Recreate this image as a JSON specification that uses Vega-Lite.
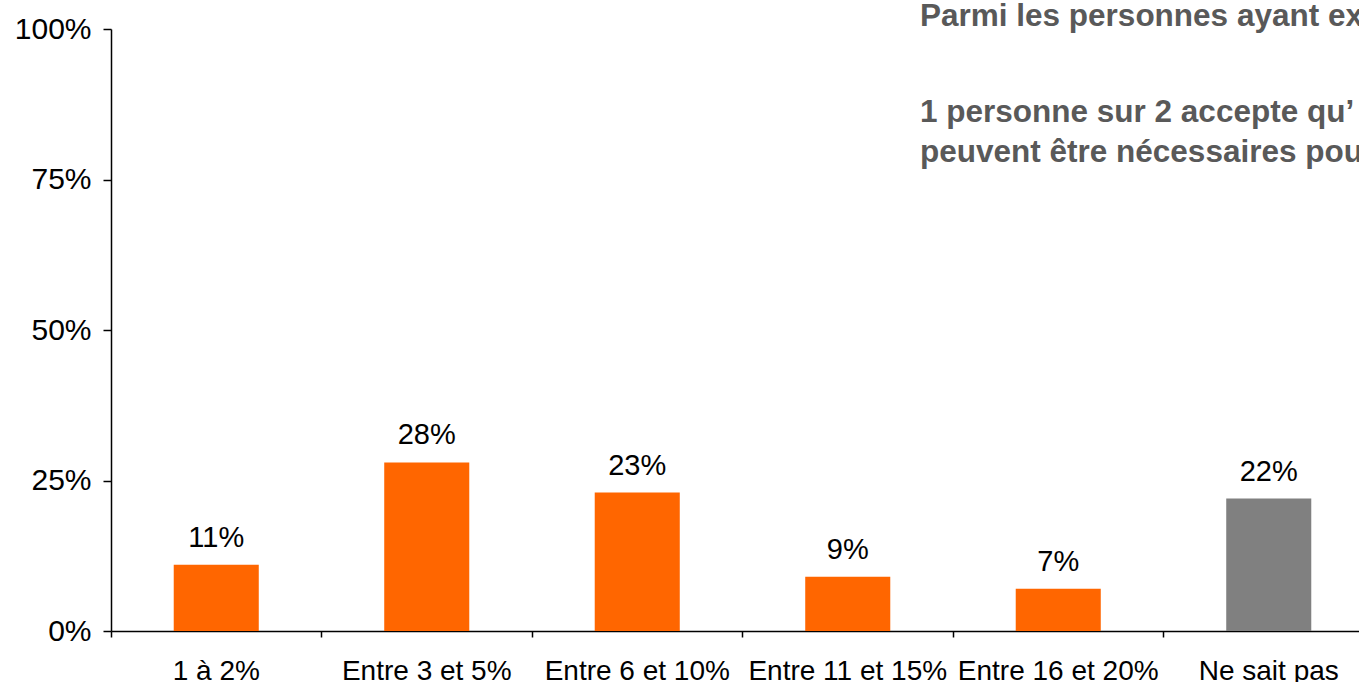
{
  "$schema": "https://vega.github.io/schema/vega-lite/v6.json",
  "width": 1248,
  "height": 602,
  "autosize": {"type": "none"},
  "padding": {"left": 111, "top": 29, "right": 0, "bottom": 51},
  "background": "white",
  "config": {"view": {"stroke": null}, "font": "Liberation Sans"},
  "title": {
    "text": "Parmi les personnes ayant ex",
    "subtitle": ["1 personne sur 2 accepte qu’", "peuvent être nécessaires pou"],
    "anchor": "start",
    "frame": "group",
    "dx": 809,
    "offset": -154,
    "font": "Liberation Sans",
    "fontSize": 31.5,
    "fontWeight": "bold",
    "color": "#595959",
    "subtitleFont": "Liberation Sans",
    "subtitleFontSize": 31.5,
    "subtitleFontWeight": "bold",
    "subtitleColor": "#595959",
    "subtitleLineHeight": 40,
    "subtitlePadding": 64
  },
  "data": {
    "values": [
      {"tranche": "1 à 2%", "part": 0.11, "groupe": "avis"},
      {"tranche": "Entre 3 et 5%", "part": 0.28, "groupe": "avis"},
      {"tranche": "Entre 6 et 10%", "part": 0.23, "groupe": "avis"},
      {"tranche": "Entre 11 et 15%", "part": 0.09, "groupe": "avis"},
      {"tranche": "Entre 16 et 20%", "part": 0.07, "groupe": "avis"},
      {"tranche": "Ne sait pas", "part": 0.22, "groupe": "nsp"}
    ]
  },
  "encoding": {
    "x": {
      "field": "tranche",
      "type": "nominal",
      "sort": null,
      "scale": {"range": [0, 1263], "paddingInner": 0, "paddingOuter": 0},
      "axis": {
        "title": null,
        "labelAngle": 0,
        "labelLimit": 0,
        "bandPosition": 0,
        "domainColor": "black",
        "domainWidth": 1.5,
        "tickColor": "black",
        "tickWidth": 1.5,
        "tickSize": 6,
        "labelFont": "Liberation Sans",
        "labelFontSize": 28,
        "labelColor": "black",
        "labelBaseline": "alphabetic",
        "labelPadding": 42
      }
    },
    "y": {
      "field": "part",
      "type": "quantitative",
      "scale": {"domain": [0, 1], "nice": false},
      "axis": {
        "title": null,
        "values": [0, 0.25, 0.5, 0.75, 1],
        "format": ".0%",
        "grid": false,
        "domainColor": "black",
        "domainWidth": 1.5,
        "tickColor": "black",
        "tickWidth": 1.5,
        "tickSize": 8,
        "labelPadding": 12,
        "labelFont": "Liberation Sans",
        "labelFontSize": 30,
        "labelColor": "black"
      }
    }
  },
  "layer": [
    {
      "mark": {"type": "bar", "width": {"band": 0.404}},
      "encoding": {
        "color": {
          "field": "groupe",
          "type": "nominal",
          "scale": {"domain": ["avis", "nsp"], "range": ["#FF6600", "#808080"]},
          "legend": null
        }
      }
    },
    {
      "mark": {"type": "text", "baseline": "alphabetic", "dy": -18, "fontSize": 29, "font": "Liberation Sans", "color": "black"},
      "encoding": {
        "text": {"field": "part", "type": "quantitative", "format": ".0%"}
      }
    }
  ]
}
